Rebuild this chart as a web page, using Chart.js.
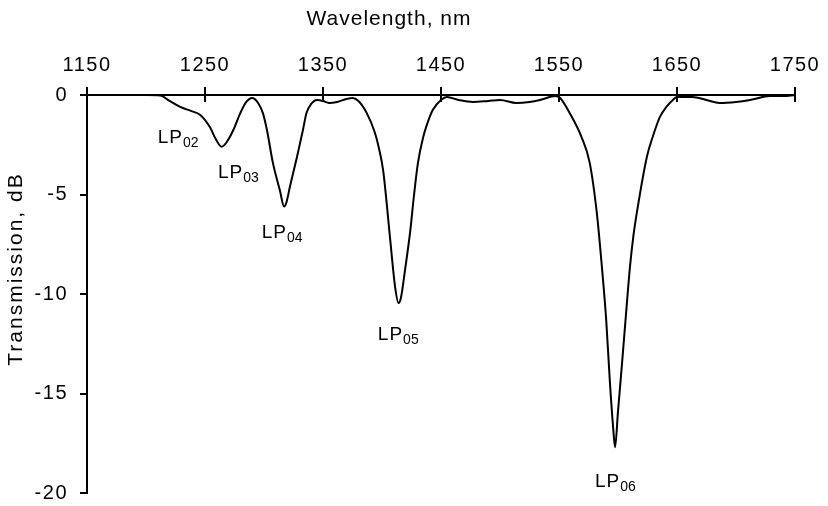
<!DOCTYPE html>
<html>
<head>
<meta charset="utf-8">
<script src="https://cdn.jsdelivr.net/npm/chart.js@4.4.1/dist/chart.umd.min.js"></script>
<style>
  html, body { margin: 0; padding: 0; background: #fff; }
  #wrap { width: 828px; height: 506px; }
</style>
</head>
<body>
<div id="wrap"><canvas id="transmission-chart" width="828" height="506"></canvas></div>
<script>
// wavelength (nm) and transmission (dB)
const wavelength = [
    1150, 1180, 1200, 1212, 1220, 1229, 1238, 1246, 1254, 1259, 1264, 1268,
    1274, 1280, 1285, 1290, 1295, 1299, 1302.5, 1307.5, 1313.5, 1317, 1319,
    1322, 1328, 1333, 1336, 1340, 1345, 1350, 1355, 1362, 1370, 1375, 1380,
    1387, 1394, 1397.5, 1401, 1407, 1411, 1414, 1416, 1419.5, 1424, 1427, 1430.5,
    1435, 1438, 1443, 1450, 1455, 1465, 1477, 1490, 1500, 1514, 1525, 1534,
    1547, 1551, 1559, 1569, 1576, 1582, 1586, 1590, 1593, 1596, 1597.5,
    1600, 1603.4, 1606.8, 1610.2, 1613, 1616, 1624.5, 1630, 1635.5, 1641, 1646.5, 1650,
    1663, 1675, 1686, 1700, 1712, 1729, 1740, 1750
];
const transmission = [
    0, 0, 0, -0.02, -0.3, -0.6, -0.8, -1.0, -1.6, -2.2, -2.6, -2.4,
    -1.76, -0.9, -0.35, -0.15, -0.4, -0.9, -1.76, -3.4, -4.8, -5.6, -5.4,
    -4.6, -3.1, -1.76, -0.9, -0.45, -0.25, -0.3, -0.4, -0.35, -0.2, -0.15, -0.3,
    -0.9, -1.9, -2.7, -3.8, -7.3, -9.6, -10.45, -10.2, -8.8, -6.8, -5.1, -3.4,
    -2.1, -1.5, -0.75, -0.25, -0.1, -0.25, -0.35, -0.3, -0.25, -0.4, -0.35, -0.25,
    -0.05, -0.15, -0.9, -2.1, -3.4, -5.9, -8.4, -11.3, -14.3, -16.8, -17.7,
    -15.9, -13.5, -11, -8.6, -7.1, -5.9, -3.1, -2.0, -1.1, -0.6, -0.25, -0.1,
    -0.1, -0.25, -0.4, -0.35, -0.25, -0.05, -0.05, 0
];

// tick labels
const xTicks = [1150, 1250, 1350, 1450, 1550, 1650, 1750];
const yTicks = [0, -5, -10, -15, -20];

// mode labels (LP + subscript), anchored at the left/baseline of the text
const modeSubs = ["02", "03", "04", "05", "06"];
const modeWl = [1210, 1261, 1298, 1396.5, 1580.5];
const modeDb = [-2.42, -4.17, -7.2, -12.3, -19.7];

const FONT = "'Liberation Sans', Arial, Helvetica, sans-serif";

const pts = wavelength.map((w, i) => ({ x: w, y: transmission[i] }));

// extra bits: inner halves of x ticks, mode labels, axis titles
const decorations = {
    id: "decorations",
    beforeDraw(chart) {
        chart.ctx.letterSpacing = "1.5px";
    },
    afterDraw(chart) {
        const ctx = chart.ctx;
        const xs = chart.scales.x;
        const ys = chart.scales.y;
        const y0 = ys.getPixelForValue(0);

        ctx.save();
        ctx.strokeStyle = "#000";
        ctx.lineWidth = 2;
        xTicks.forEach(v => {
            const px = Math.round(xs.getPixelForValue(v));
            ctx.beginPath();
            ctx.moveTo(px, y0);
            ctx.lineTo(px, y0 + 7);
            ctx.stroke();
        });

        ctx.fillStyle = "#000";
        ctx.textBaseline = "alphabetic";
        ctx.textAlign = "left";
        modeSubs.forEach((sub, i) => {
            const px = xs.getPixelForValue(modeWl[i]);
            const py = ys.getPixelForValue(modeDb[i]);
            ctx.letterSpacing = "1px";
            ctx.font = "19px " + FONT;
            ctx.fillText("LP", px, py);
            const w = ctx.measureText("LP").width;
            ctx.letterSpacing = "0px";
            ctx.font = "14px " + FONT;
            ctx.fillText(sub, px + w, py + 4);
        });

        // axis titles
        ctx.font = "21px " + FONT;
        ctx.letterSpacing = "1px";
        ctx.textAlign = "center";
        ctx.textBaseline = "middle";
        ctx.fillText("Wavelength, nm", 389, 19);

        ctx.translate(16, 269);
        ctx.rotate(-Math.PI / 2);
        ctx.letterSpacing = "2px";
        ctx.fillText("Transmission, dB", 0, 0);
        ctx.restore();
    }
};

const ctx = document.getElementById("transmission-chart").getContext("2d");
const chart = new Chart(ctx, {
    type: "line",
    data: {
        datasets: [{
            data: pts,
            borderColor: "#000",
            borderWidth: 2,
            pointRadius: 0,
            fill: false,
            cubicInterpolationMode: "monotone",
        }],
    },
    options: {
        responsive: false,
        animation: false,
        devicePixelRatio: 1,
        layout: { padding: { left: 0, top: 0, right: 33, bottom: 13 } },
        plugins: {
            legend: { display: false },
            tooltip: { enabled: false },
        },
        scales: {
            x: {
                type: "linear",
                position: "top",
                min: 1150,
                max: 1750,
                afterBuildTicks: (s) => { s.ticks = xTicks.map(v => ({ value: v })); },
                afterFit: (s) => { s.height = 95; s.paddingLeft = 0; s.paddingRight = 0; },
                grid: { drawOnChartArea: false, drawTicks: true, tickLength: 8, color: "#000", lineWidth: 2 },
                border: { display: true, color: "#000", width: 2 },
                ticks: {
                    color: "#000",
                    font: { family: FONT, size: 20 },
                    padding: 10,
                    maxRotation: 0,
                    callback: (v) => String(v),
                },
            },
            y: {
                type: "linear",
                min: -20,
                max: 0,
                afterBuildTicks: (s) => { s.ticks = yTicks.map(v => ({ value: v })); },
                afterFit: (s) => { s.width = 87; s.paddingTop = 0; s.paddingBottom = 0; },
                grid: { drawOnChartArea: false, drawTicks: true, tickLength: 7, color: "#000", lineWidth: 2 },
                border: { display: true, color: "#000", width: 2 },
                ticks: {
                    color: "#000",
                    font: { family: FONT, size: 20 },
                    padding: 12,
                    callback: (v) => String(v),
                },
            },
        },
    },
    plugins: [decorations],
});
</script>
</body>
</html>
